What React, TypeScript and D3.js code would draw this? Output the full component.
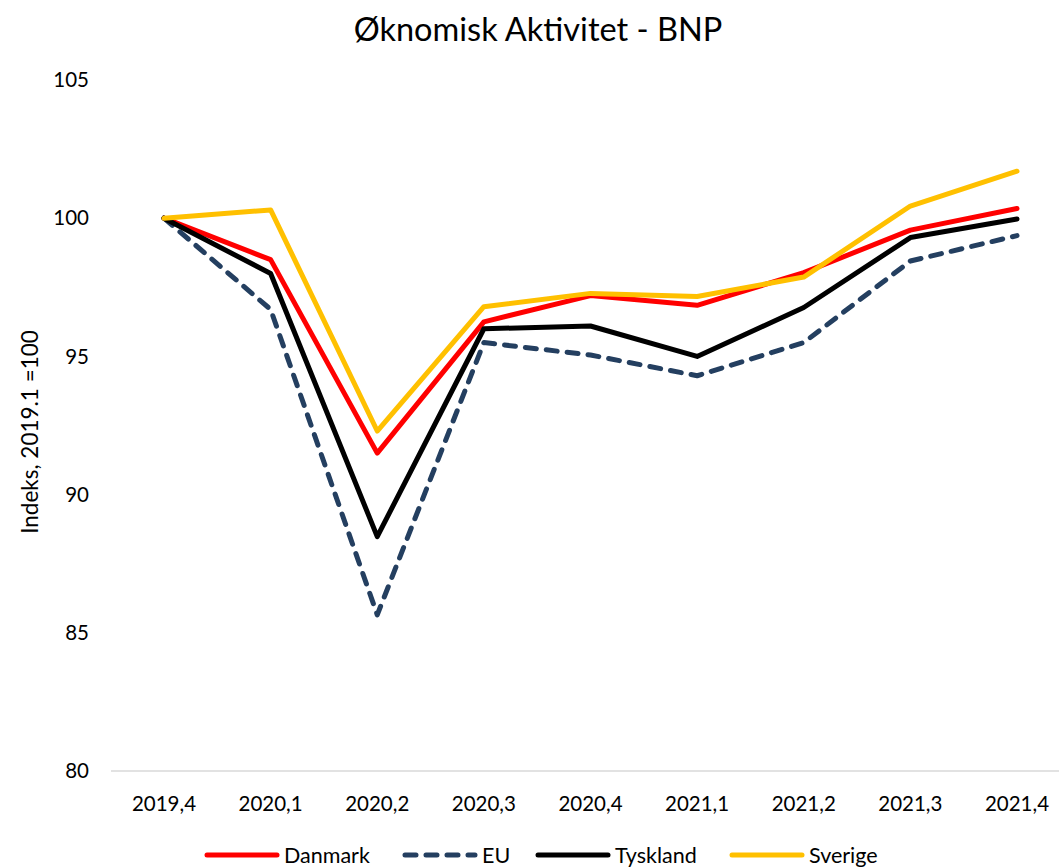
import React, { useRef, useEffect } from 'react';
import * as d3 from 'd3';

// quarters on the x axis
const quarters = ['2019,4', '2020,1', '2020,2', '2020,3', '2020,4', '2021,1', '2021,2', '2021,3', '2021,4'];

// index values, 2019.1 = 100
const danmark = [100, 98.5, 91.5, 96.25, 97.2, 96.85, 98.03, 99.57, 100.35];
const eu = [100, 96.7, 85.65, 95.5, 95.05, 94.3, 95.5, 98.45, 99.37];
const tyskland = [100, 98.0, 88.48, 96.0, 96.1, 95.0, 96.77, 99.3, 99.97];
const sverige = [100, 100.3, 92.3, 96.8, 97.28, 97.17, 97.87, 100.44, 101.7];

const yTicks = [80, 85, 90, 95, 100, 105];

const seriesNames = ['Danmark', 'EU', 'Tyskland', 'Sverige'];
const seriesColors = ['#ff0000', '#243f60', '#000000', '#ffc000'];

const W = 1059;
const H = 868;
const font = 'Lato, "Open Sans", sans-serif';

const App = () => {
    const ref = useRef(null);

    useEffect(() => {
        const svg = d3.select(ref.current);
        svg.selectAll('*').remove();

        const x = d3.scalePoint()
            .domain(quarters)
            .range([164, 1017]);

        const y = d3.scaleLinear()
            .domain([80, 105])
            .range([771, 80]);

        // title
        svg.append('text')
            .attr('x', 538)
            .attr('y', 41)
            .attr('text-anchor', 'middle')
            .attr('font-size', 32.5)
            .attr('font-family', font)
            .text('Øknomisk Aktivitet - BNP');

        // y axis label
        svg.append('text')
            .attr('transform', `translate(38,432) rotate(-90)`)
            .attr('text-anchor', 'middle')
            .attr('font-size', 22.5)
            .attr('font-family', font)
            .text('Indeks, 2019.1 =100');

        // y tick labels (no axis line)
        svg.append('g')
            .selectAll('text')
            .data(yTicks)
            .join('text')
            .attr('x', 89)
            .attr('y', d => y(d))
            .attr('dy', '0.35em')
            .attr('text-anchor', 'end')
            .attr('font-size', 20.5)
            .attr('font-family', font)
            .text(d => d);

        // x axis line
        svg.append('line')
            .attr('x1', 111)
            .attr('x2', W)
            .attr('y1', y(80))
            .attr('y2', y(80))
            .attr('stroke', '#d9d9d9')
            .attr('stroke-width', 1.5);

        svg.append('g')
            .selectAll('text')
            .data(quarters)
            .join('text')
            .attr('x', d => x(d))
            .attr('y', 811)
            .attr('text-anchor', 'middle')
            .attr('font-size', 20.5)
            .attr('font-family', font)
            .text(d => d);

        // lines
        const allSeries = [danmark, eu, tyskland, sverige];
        const line = d3.line()
            .x((d, i) => x(quarters[i]))
            .y(d => y(d));

        allSeries.forEach((vals, i) => {
            svg.append('path')
                .datum(vals)
                .attr('d', line)
                .attr('fill', 'none')
                .attr('stroke', seriesColors[i])
                .attr('stroke-width', 5)
                .attr('stroke-linejoin', 'round')
                .attr('stroke-linecap', 'round')
                .attr('stroke-dasharray', seriesNames[i] === 'EU' ? '11 10' : null);
        });

        // legend
        const legendX = [207, 405, 538, 732];
        const legend = svg.append('g')
            .selectAll('g')
            .data(seriesNames)
            .join('g')
            .attr('transform', (d, i) => `translate(${legendX[i]},855)`);

        legend.append('line')
            .attr('x1', 0)
            .attr('x2', 70)
            .attr('stroke', (d, i) => seriesColors[i])
            .attr('stroke-width', 5)
            .attr('stroke-linecap', 'round')
            .attr('stroke-dasharray', d => d === 'EU' ? '11 10' : null);

        legend.append('text')
            .attr('x', 77)
            .attr('dy', '0.35em')
            .attr('font-size', 21.5)
            .attr('font-family', font)
            .text(d => d);
    }, []);

    return (
        <svg
            ref={ref}
            width={W}
            height={H}
            style={{ position: 'absolute', left: 0, top: 0, background: '#fff' }}
        />
    );
};

export default App;
